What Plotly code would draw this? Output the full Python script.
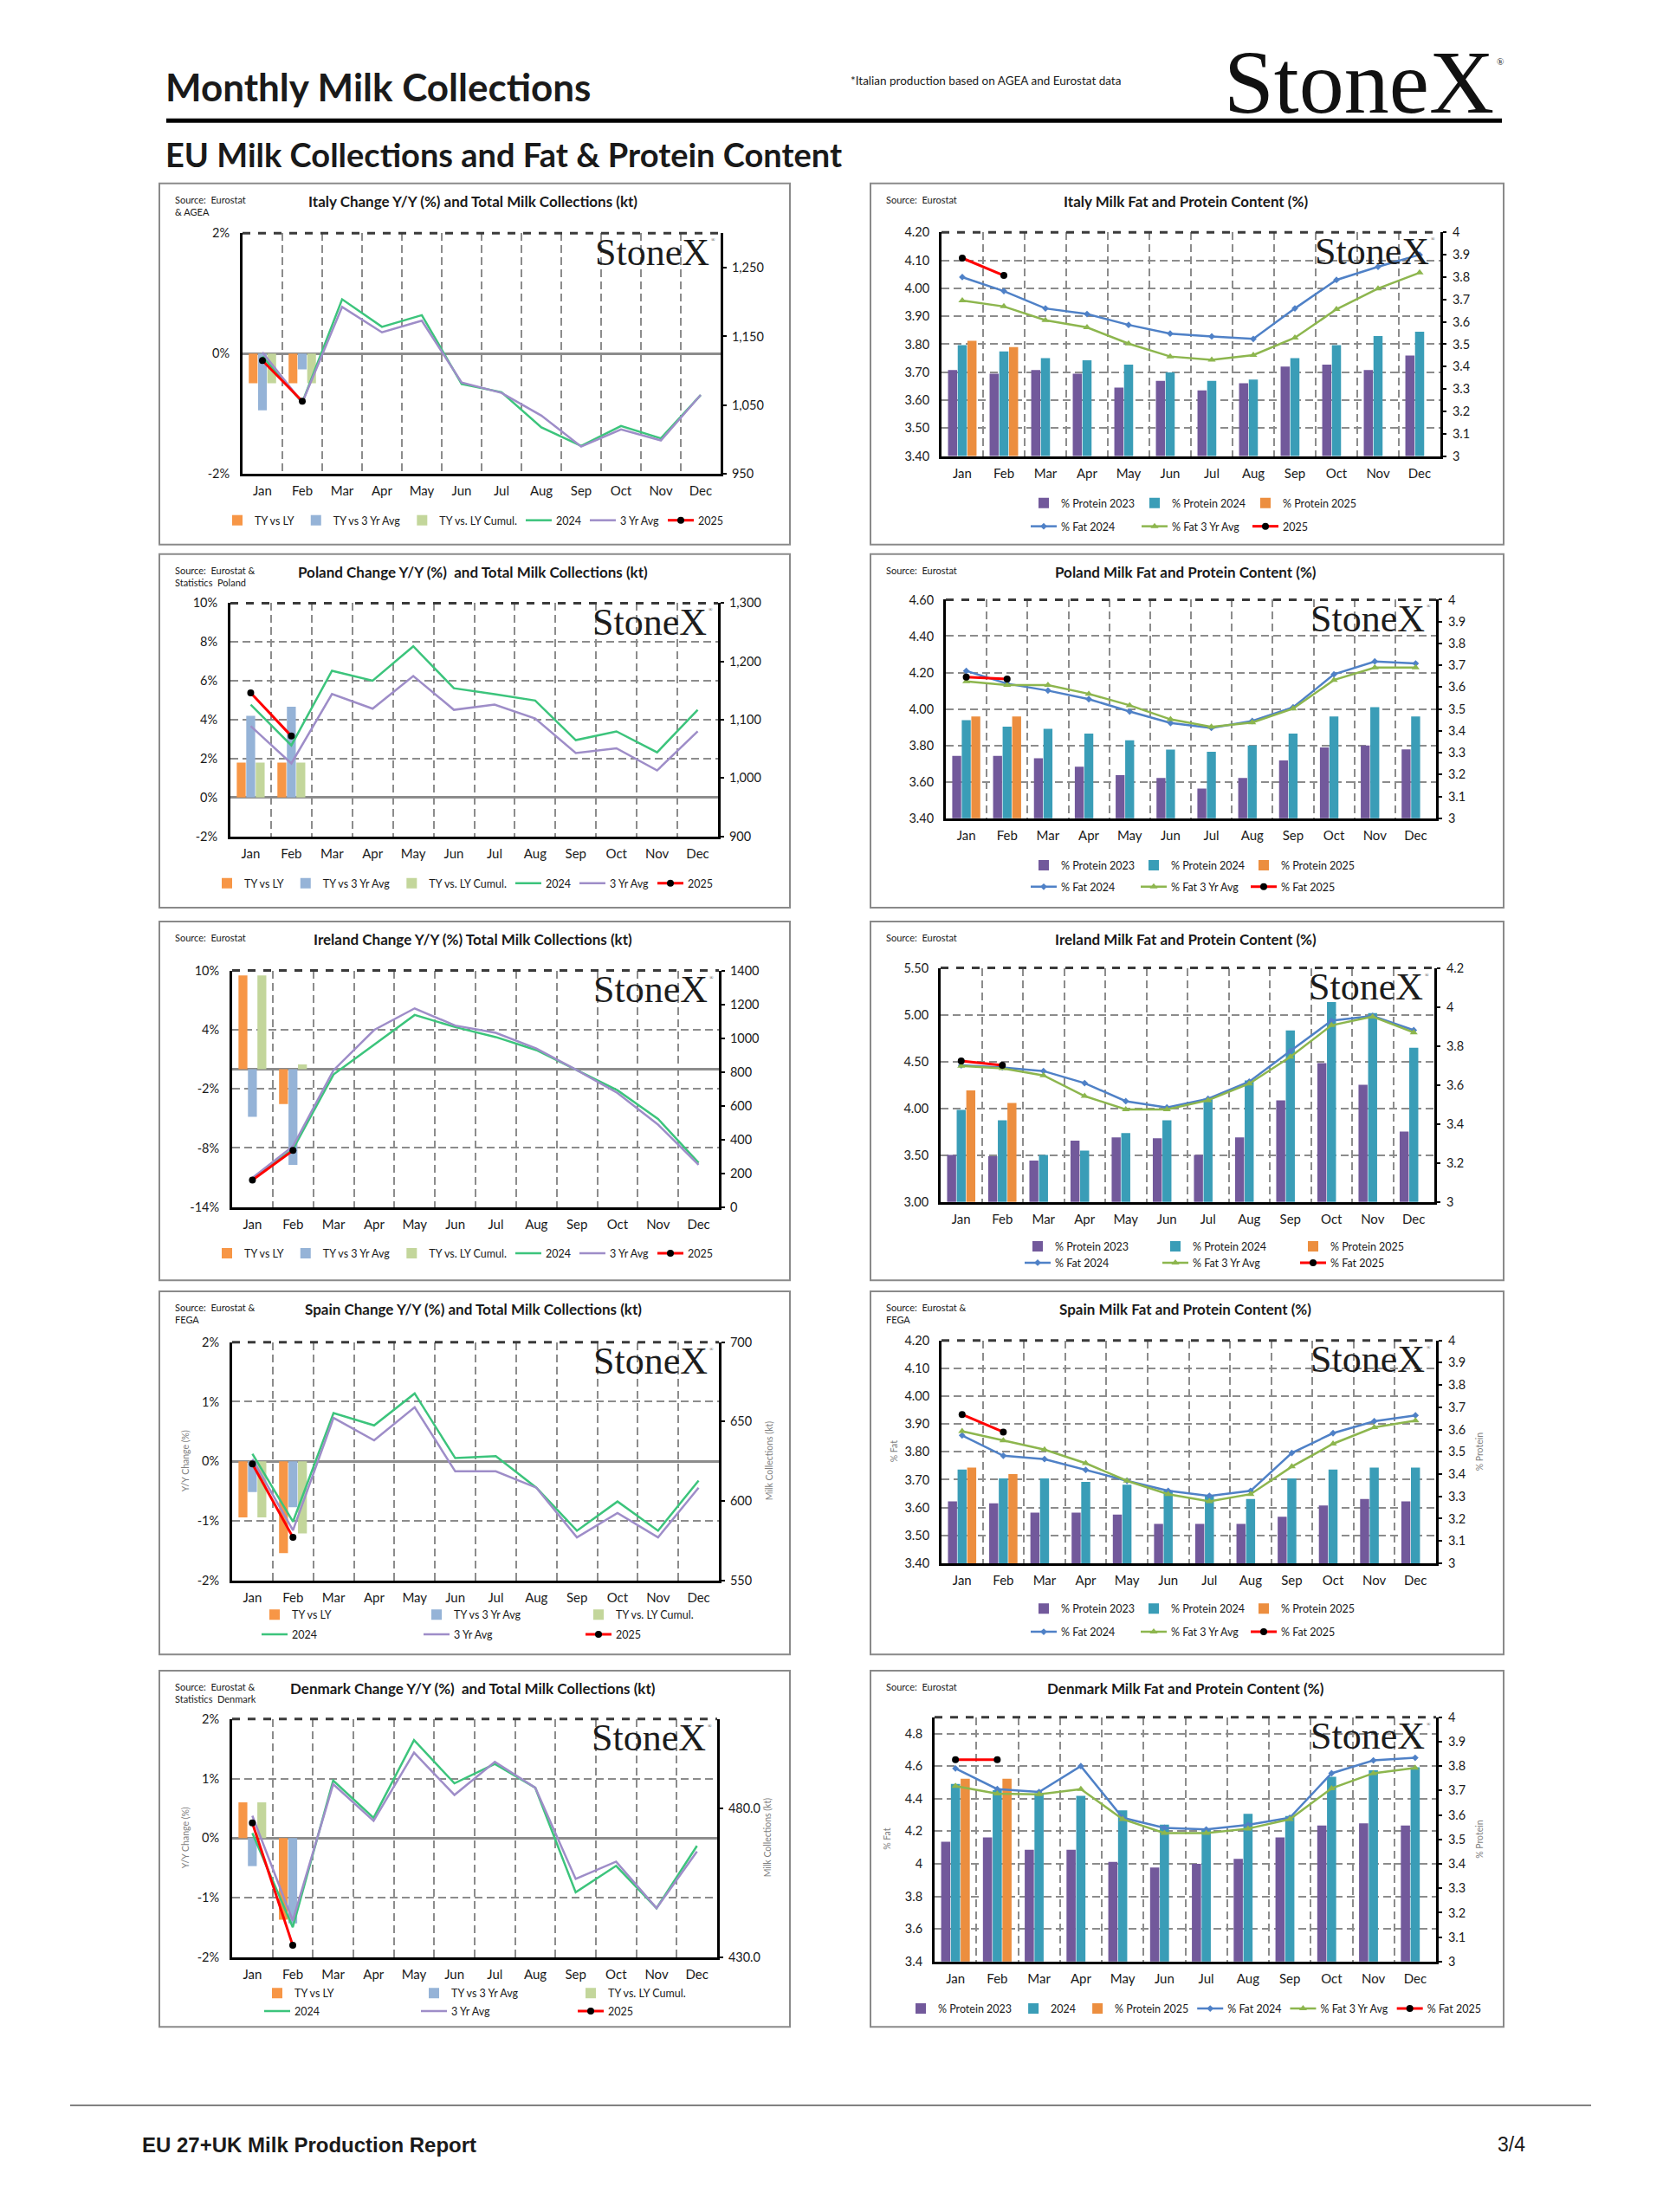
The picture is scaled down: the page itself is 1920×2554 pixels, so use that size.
import plotly.graph_objects as go

PAGE_W, PAGE_H = 1920, 2554
BODY_MARGIN = 8                       # default <body> margin of the html page
W, H = PAGE_W - 2 * BODY_MARGIN, PAGE_H - 2 * BODY_MARGIN
FONT = "Lato"
SERIF = "Liberation Serif"

MONTHS = ["Jan", "Feb", "Mar", "Apr", "May", "Jun", "Jul", "Aug", "Sep", "Oct", "Nov", "Dec"]
CHANGE_NAMES = ["TY vs LY", "TY vs 3 Yr Avg", "TY vs. LY Cumul.", "2024", "3 Yr Avg", "2025"]

# ---------------- Italy: change Y/Y (%) and collections (kt)
ITA_TY_LY = [-0.49, -0.49]
ITA_TY_3YR = [-0.94, -0.26]
ITA_TY_CUMUL = [-0.49, -0.49]
ITA_KT_2024 = [1121, 1054, 1204, 1164, 1181, 1081, 1069, 1018, 991, 1020, 1002, 1065]
ITA_KT_3YR = [1127, 1054, 1193, 1156, 1173, 1083, 1068, 1035, 990, 1015, 999, 1065]
ITA_KT_2025 = [1115, 1056]
ITA_PCT_TICKS = [-2, 0, 2]
ITA_KT_TICKS = [950, 1050, 1150, 1250]

# ---------------- Poland
POL_TY_LY = [1.79, 1.79]
POL_TY_3YR = [4.2, 4.67]
POL_TY_CUMUL = [1.79, 1.79]
POL_KT_2024 = [1126, 1056, 1184, 1167, 1226, 1154, 1144, 1133, 1065, 1080, 1044, 1117]
POL_KT_3YR = [1089, 1025, 1144, 1119, 1175, 1117, 1126, 1102, 1043, 1051, 1013, 1080]
POL_KT_2025 = [1146, 1072]
POL_PCT_TICKS = [-2, 0, 2, 4, 6, 8, 10]
POL_KT_TICKS = [900, 1000, 1100, 1200, 1300]

# ---------------- Ireland
IRL_TY_LY = [9.5, -3.54]
IRL_TY_3YR = [-4.85, -9.72]
IRL_TY_CUMUL = [9.5, 0.48]
IRL_KT_2024 = [165, 343, 785, 963, 1137, 1065, 1006, 929, 810, 691, 522, 262]
IRL_KT_3YR = [173, 360, 810, 1048, 1176, 1074, 1031, 938, 810, 675, 488, 250]
IRL_KT_2025 = [160, 335]
IRL_PCT_TICKS = [-14, -8, -2, 4, 10]
IRL_KT_TICKS = [0, 200, 400, 600, 800, 1000, 1200, 1400]

# ---------------- Spain
ESP_TY_LY = [-0.94, -1.54]
ESP_TY_3YR = [-0.515, -0.77]
ESP_TY_CUMUL = [-0.94, -1.21]
ESP_KT_2024 = [629.7, 587.0, 655.4, 647.6, 667.7, 627.0, 628.3, 608.4, 581.3, 599.7, 581.3, 612.9]
ESP_KT_3YR = [626.4, 581.6, 652.3, 638.2, 659.0, 618.7, 618.7, 608.4, 577.1, 592.5, 577.1, 608.4]
ESP_KT_2025 = [623.4, 577.1]
ESP_PCT_TICKS = [-2, -1, 0, 1, 2]
ESP_KT_TICKS = [550, 600, 650, 700]

# ---------------- Denmark
DNK_TY_LY = [0.6, -1.37]
DNK_TY_3YR = [-0.47, -1.43]
DNK_TY_CUMUL = [0.6, None]
DNK_KT_2024 = [471.7, 440.1, 489.3, 476.8, 502.9, 488.4, 494.9, 486.9, 451.8, 460.7, 446.5, 467.4]
DNK_KT_3YR = [477.5, 442.3, 488.1, 475.8, 498.7, 484.5, 495.6, 486.9, 456.3, 462.1, 446.5, 465.5]
DNK_KT_2025 = [475.1, 434.0]
DNK_PCT_TICKS = [-2, -1, 0, 1, 2]
DNK_KT_TICKS = [430, 480]

# ---------------- Fat & protein content (%)
PROTEIN_TICKS = [3.0, 3.1, 3.2, 3.3, 3.4, 3.5, 3.6, 3.7, 3.8, 3.9, 4.0]

ITA_PROT_2023 = [3.385, 3.368, 3.385, 3.368, 3.306, 3.336, 3.294, 3.326, 3.400, 3.409, 3.385, 3.449]
ITA_PROT_2024 = [3.496, 3.468, 3.438, 3.428, 3.409, 3.374, 3.336, 3.342, 3.438, 3.496, 3.537, 3.556]
ITA_PROT_2025 = [3.515, 3.487]
ITA_FAT_2024 = [4.040, 3.990, 3.928, 3.908, 3.869, 3.838, 3.828, 3.819, 3.928, 4.030, 4.077, 4.120]
ITA_FAT_3YR = [3.956, 3.935, 3.886, 3.860, 3.802, 3.756, 3.744, 3.761, 3.823, 3.925, 3.999, 4.056]
ITA_FAT_2025 = [4.108, 4.046]
ITA_FAT_TICKS = [3.40, 3.50, 3.60, 3.70, 3.80, 3.90, 4.00, 4.10, 4.20]

POL_PROT_2023 = [3.285, 3.285, 3.274, 3.236, 3.197, 3.184, 3.136, 3.184, 3.265, 3.324, 3.333, 3.315]
POL_PROT_2024 = [3.449, 3.419, 3.409, 3.387, 3.357, 3.314, 3.304, 3.333, 3.387, 3.466, 3.508, 3.466]
POL_PROT_2025 = [3.466, 3.466]
POL_FAT_2024 = [4.209, 4.139, 4.101, 4.054, 3.986, 3.923, 3.896, 3.934, 4.009, 4.190, 4.261, 4.250]
POL_FAT_3YR = [4.151, 4.131, 4.131, 4.083, 4.020, 3.943, 3.902, 3.926, 4.002, 4.159, 4.227, 4.227]
POL_FAT_2025 = [4.175, 4.164]
POL_FAT_TICKS = [3.40, 3.60, 3.80, 4.00, 4.20, 4.40, 4.60]

IRL_PROT_2023 = [3.241, 3.234, 3.212, 3.314, 3.331, 3.326, 3.241, 3.331, 3.521, 3.712, 3.601, 3.361]
IRL_PROT_2024 = [3.472, 3.419, 3.241, 3.263, 3.353, 3.419, 3.530, 3.623, 3.879, 4.025, 3.968, 3.791]
IRL_PROT_2025 = [3.572, 3.507]
IRL_FAT_2024 = [4.459, 4.437, 4.398, 4.269, 4.076, 4.009, 4.101, 4.284, 4.612, 4.936, 4.988, 4.835]
IRL_FAT_3YR = [4.453, 4.428, 4.352, 4.131, 3.988, 3.988, 4.086, 4.263, 4.550, 4.887, 4.979, 4.810]
IRL_FAT_2025 = [4.505, 4.459]
IRL_FAT_TICKS = [3.00, 3.50, 4.00, 4.50, 5.00, 5.50]
IRL_PROT_TICKS = [3.0, 3.2, 3.4, 3.6, 3.8, 4.0, 4.2]

ESP_PROT_2023 = [3.278, 3.269, 3.227, 3.227, 3.218, 3.177, 3.177, 3.177, 3.209, 3.259, 3.288, 3.278]
ESP_PROT_2024 = [3.421, 3.381, 3.381, 3.365, 3.353, 3.327, 3.305, 3.288, 3.381, 3.421, 3.429, 3.429]
ESP_PROT_2025 = [3.429, 3.400]
ESP_FAT_2024 = [3.859, 3.786, 3.774, 3.735, 3.696, 3.660, 3.642, 3.660, 3.796, 3.867, 3.910, 3.931]
ESP_FAT_3YR = [3.874, 3.841, 3.808, 3.759, 3.696, 3.648, 3.622, 3.648, 3.747, 3.829, 3.888, 3.912]
ESP_FAT_2025 = [3.934, 3.871]
ESP_FAT_TICKS = [3.40, 3.50, 3.60, 3.70, 3.80, 3.90, 4.00, 4.10, 4.20]

DNK_PROT_2023 = [3.490, 3.508, 3.458, 3.458, 3.408, 3.385, 3.400, 3.420, 3.508, 3.557, 3.566, 3.557]
DNK_PROT_2024 = [3.727, 3.701, 3.689, 3.678, 3.619, 3.560, 3.543, 3.605, 3.596, 3.756, 3.783, 3.795]
DNK_PROT_2025 = [3.748, 3.748]
DNK_FAT_2024 = [4.586, 4.459, 4.441, 4.600, 4.283, 4.221, 4.211, 4.239, 4.283, 4.556, 4.635, 4.651]
DNK_FAT_3YR = [4.477, 4.431, 4.427, 4.459, 4.274, 4.189, 4.189, 4.216, 4.274, 4.463, 4.556, 4.589]
DNK_FAT_2025 = [4.639, 4.639]
DNK_FAT_TICKS = [3.4, 3.6, 3.8, 4.0, 4.2, 4.4, 4.6, 4.8]

# ---------------- styles
ORANGE = "#F79646"
BLUE_BAR = "#95B3D7"
GREEN_BAR = "#C3D69B"
GREEN_LINE = "#3CC47C"
PURPLE_LINE = "#9E8DC8"
RED = "#FF0000"
PROT23 = "#72599B"
PROT24 = "#3A9DB7"
PROT25 = "#EC8E3F"
FAT24 = "#4F81C7"
FAT3Y = "#8DB64E"
GRID = "#8c8c8c"
DASH = "9px,5px"
TXT = "#1a1a1a"
TICK_SIZE = 14.5
LEGEND_SIZE = 12.5


def px_x(v):
    return (v - BODY_MARGIN) / W


def px_y(v):
    return 1 - (v - BODY_MARGIN) / H


def names_for(kind, n):
    return (f"{kind}axis" if n == 1 else f"{kind}axis{n}"), (kind if n == 1 else f"{kind}{n}")


fig = go.Figure()
layout = dict(
    width=W, height=H, margin=dict(l=0, r=0, t=0, b=0),
    paper_bgcolor="white", plot_bgcolor="white",
    barmode="group", bargap=0.3, bargroupgap=0.06,
    font=dict(family=FONT, size=13, color=TXT),
    showlegend=True,
)
shapes = []
annotations = []
legend_counter = [0]


def add_text(x, y, text, size, xanchor="left", yanchor="middle", family=FONT, color=TXT, angle=0):
    annotations.append(dict(
        x=px_x(x), y=px_y(y), xref="paper", yref="paper", text=text, showarrow=False,
        xanchor=xanchor, yanchor=yanchor, textangle=angle, align="left",
        font=dict(size=size, family=family, color=color)))


def new_legend(x, y, entrywidth=None):
    legend_counter[0] += 1
    n = legend_counter[0]
    name = "legend" if n == 1 else f"legend{n}"
    d = dict(orientation="h", x=px_x(x), y=px_y(y), xanchor="left", yanchor="middle",
             bgcolor="rgba(0,0,0,0)", borderwidth=0, itemwidth=30, traceorder="normal",
             font=dict(size=LEGEND_SIZE, family=FONT, color=TXT))
    if entrywidth:
        d.update(entrywidth=entrywidth, entrywidthmode="pixels")
    layout[name] = d
    return name


def frame(p):
    bx0, by0, bx1, by1 = p["box"]
    l, r, t, b = p["plot"]
    shapes.append(dict(type="rect", xref="paper", yref="paper", x0=px_x(bx0), x1=px_x(bx1),
                       y0=px_y(by1), y1=px_y(by0), line=dict(color="#8a8a8a", width=2)))
    shapes.append(dict(type="line", xref="paper", yref="paper", x0=px_x(l), x1=px_x(r),
                       y0=px_y(t), y1=px_y(t), line=dict(color="#3a3a3a", width=3, dash="dash")))
    add_text((bx0 + bx1) / 2 - 2, by0 + 21, "<b>" + p["title"] + "</b>", 17, xanchor="center")
    add_text(bx0 + 16, by0 + 10, p["source"], 11, yanchor="top")
    add_text(r - 11, t + 22, "StoneX", 44, xanchor="right", family=SERIF, color="#1c1c1c")
    add_text(r - 4, t + 8, "®", 6, xanchor="right", family=SERIF, color="#333")


def xaxis_style(l, r, yref):
    return dict(domain=[px_x(l), px_x(r)], anchor=yref, type="category",
                categoryorder="array", categoryarray=MONTHS, range=[-0.5, 11.5],
                tickson="boundaries", ticks="", showgrid=True, gridcolor=GRID, gridwidth=2,
                griddash=DASH, showline=True, linecolor="black", linewidth=3,
                tickfont=dict(size=TICK_SIZE + 0.5, color=TXT), ticklabelstandoff=4, zeroline=False)


CHANGE_PANELS = [
    dict(title="Italy Change Y/Y (%) and Total Milk Collections (kt)",
         source="Source:  Eurostat<br>& AGEA", box=(184, 204, 912, 624), plot=(280, 832, 262, 542),
         bars=(ITA_TY_LY, ITA_TY_3YR, ITA_TY_CUMUL), lines=(ITA_KT_2024, ITA_KT_3YR, ITA_KT_2025),
         pct_range=[-2, 2], pct_ticks=ITA_PCT_TICKS, kt_range=[950, 1300], kt_ticks=ITA_KT_TICKS,
         kt_fmt="{:,.0f}", legend=dict(x=254, rows=[596]), ytitles=False),
    dict(title="Poland Change Y/Y (%)  and Total Milk Collections (kt)",
         source="Source:  Eurostat &<br>Statistics  Poland", box=(184, 635, 912, 1046), plot=(266, 829, 692, 963),
         bars=(POL_TY_LY, POL_TY_3YR, POL_TY_CUMUL), lines=(POL_KT_2024, POL_KT_3YR, POL_KT_2025),
         pct_range=[-2, 10], pct_ticks=POL_PCT_TICKS, kt_range=[900, 1300], kt_ticks=POL_KT_TICKS,
         kt_fmt="{:,.0f}", legend=dict(x=242, rows=[1018]), ytitles=False),
    dict(title="Ireland Change Y/Y (%) Total Milk Collections (kt)",
         source="Source:  Eurostat", box=(184, 1062, 912, 1479), plot=(268, 830, 1119, 1394),
         bars=(IRL_TY_LY, IRL_TY_3YR, IRL_TY_CUMUL), lines=(IRL_KT_2024, IRL_KT_3YR, IRL_KT_2025),
         pct_range=[-14, 10], pct_ticks=IRL_PCT_TICKS, kt_range=[0, 1400], kt_ticks=IRL_KT_TICKS,
         kt_fmt="{:.0f}", legend=dict(x=242, rows=[1448]), ytitles=False),
    dict(title="Spain Change Y/Y (%) and Total Milk Collections (kt)",
         source="Source:  Eurostat &<br>FEGA", box=(184, 1492, 912, 1914), plot=(268, 830, 1551, 1828),
         bars=(ESP_TY_LY, ESP_TY_3YR, ESP_TY_CUMUL), lines=(ESP_KT_2024, ESP_KT_3YR, ESP_KT_2025),
         pct_range=[-2, 2], pct_ticks=ESP_PCT_TICKS, kt_range=[550, 700], kt_ticks=ESP_KT_TICKS,
         kt_fmt="{:.0f}", legend=dict(x=297, rows=[1868, 1891], col=184), ytitles=True),
    dict(title="Denmark Change Y/Y (%)  and Total Milk Collections (kt)",
         source="Source:  Eurostat &<br>Statistics  Denmark", box=(184, 1933, 912, 2347), plot=(268, 828, 1989, 2266),
         bars=(DNK_TY_LY, DNK_TY_3YR, DNK_TY_CUMUL), lines=(DNK_KT_2024, DNK_KT_3YR, DNK_KT_2025),
         pct_range=[-2, 2], pct_ticks=DNK_PCT_TICKS, kt_range=[430, 510], kt_ticks=DNK_KT_TICKS,
         kt_fmt="{:.1f}", legend=dict(x=300, rows=[2308, 2329], col=178), ytitles=True),
]

CONTENT_PANELS = [
    dict(title="Italy Milk Fat and Protein Content (%)", source="Source:  Eurostat",
         box=(1005, 204, 1736, 624), plot=(1087, 1663, 261, 521),
         prot=(ITA_PROT_2023, ITA_PROT_2024, ITA_PROT_2025), fat=(ITA_FAT_2024, ITA_FAT_3YR, ITA_FAT_2025),
         fat_range=[3.4, 4.2], fat_ticks=ITA_FAT_TICKS, fat_fmt="{:.2f}",
         prot_range=[3.0, 4.0], prot_ticks=PROTEIN_TICKS,
         names=["% Protein 2023", "% Protein 2024", "% Protein 2025", "% Fat 2024", "% Fat 3 Yr Avg", "2025"],
         legend=dict(x=1185, rows=[576, 603], col=125), ytitles=False),
    dict(title="Poland Milk Fat and Protein Content (%)", source="Source:  Eurostat",
         box=(1005, 635, 1736, 1046), plot=(1092, 1658, 688, 942),
         prot=(POL_PROT_2023, POL_PROT_2024, POL_PROT_2025), fat=(POL_FAT_2024, POL_FAT_3YR, POL_FAT_2025),
         fat_range=[3.4, 4.6], fat_ticks=POL_FAT_TICKS, fat_fmt="{:.2f}",
         prot_range=[3.0, 4.0], prot_ticks=PROTEIN_TICKS,
         names=["% Protein 2023", "% Protein 2024", "% Protein 2025", "% Fat 2024", "% Fat 3 Yr Avg", "% Fat 2025"],
         legend=dict(x=1185, rows=[997, 1022], col=124), ytitles=False),
    dict(title="Ireland Milk Fat and Protein Content (%)", source="Source:  Eurostat",
         box=(1005, 1062, 1736, 1479), plot=(1086, 1656, 1116, 1388),
         prot=(IRL_PROT_2023, IRL_PROT_2024, IRL_PROT_2025), fat=(IRL_FAT_2024, IRL_FAT_3YR, IRL_FAT_2025),
         fat_range=[3.0, 5.5], fat_ticks=IRL_FAT_TICKS, fat_fmt="{:.2f}",
         prot_range=[3.0, 4.2], prot_ticks=IRL_PROT_TICKS,
         names=["% Protein 2023", "% Protein 2024", "% Protein 2025", "% Fat 2024", "% Fat 3 Yr Avg", "% Fat 2025"],
         legend=dict(x=1178, rows=[1440, 1459], col=156), ytitles=False),
    dict(title="Spain Milk Fat and Protein Content (%)", source="Source:  Eurostat &<br>FEGA",
         box=(1005, 1492, 1736, 1914), plot=(1087, 1658, 1549, 1808),
         prot=(ESP_PROT_2023, ESP_PROT_2024, ESP_PROT_2025), fat=(ESP_FAT_2024, ESP_FAT_3YR, ESP_FAT_2025),
         fat_range=[3.4, 4.2], fat_ticks=ESP_FAT_TICKS, fat_fmt="{:.2f}",
         prot_range=[3.0, 4.0], prot_ticks=PROTEIN_TICKS,
         names=["% Protein 2023", "% Protein 2024", "% Protein 2025", "% Fat 2024", "% Fat 3 Yr Avg", "% Fat 2025"],
         legend=dict(x=1185, rows=[1861, 1888], col=124), ytitles=True),
    dict(title="Denmark Milk Fat and Protein Content (%)", source="Source:  Eurostat",
         box=(1005, 1933, 1736, 2347), plot=(1079, 1658, 1987, 2271),
         prot=(DNK_PROT_2023, DNK_PROT_2024, DNK_PROT_2025), fat=(DNK_FAT_2024, DNK_FAT_3YR, DNK_FAT_2025),
         fat_range=[3.4, 4.9], fat_ticks=DNK_FAT_TICKS, fat_fmt="{:g}",
         prot_range=[3.0, 4.0], prot_ticks=PROTEIN_TICKS,
         names=["% Protein 2023", "2024", "% Protein 2025", "% Fat 2024", "% Fat 3 Yr Avg", "% Fat 2025"],
         legend=dict(x=1043, rows=[2326]), ytitles=True),
]


def make_legends(lg):
    if len(lg["rows"]) == 1:
        a = new_legend(lg["x"], lg["rows"][0])
        return a, a
    a = new_legend(lg["x"], lg["rows"][0], entrywidth=lg["col"] - 42)
    b = new_legend(lg["x"], lg["rows"][1], entrywidth=lg["col"] - 42)
    return a, b


axis_index = 0
for p in CHANGE_PANELS:
    axis_index += 1
    k = axis_index
    xname, xref = names_for("x", k)
    y1name, y1ref = names_for("y", 2 * k - 1)
    y2name, y2ref = names_for("y", 2 * k)
    l, r, t, b = p["plot"]
    layout[xname] = xaxis_style(l, r, y1ref)
    layout[y1name] = dict(
        domain=[px_y(b), px_y(t)], anchor=xref, side="left", range=p["pct_range"],
        tickvals=p["pct_ticks"], ticktext=[f"{v:g}%" for v in p["pct_ticks"]],
        showgrid=True, gridcolor=GRID, gridwidth=2, griddash=DASH,
        zeroline=True, zerolinecolor="#8c8c8c", zerolinewidth=3,
        showline=True, linecolor="black", linewidth=3, ticks="",
        tickfont=dict(size=TICK_SIZE, color=TXT), ticklabelstandoff=9)
    layout[y2name] = dict(
        overlaying=y1ref, anchor=xref, side="right", range=p["kt_range"],
        tickvals=p["kt_ticks"], ticktext=[p["kt_fmt"].format(v) for v in p["kt_ticks"]],
        showgrid=False, zeroline=False, showline=True, linecolor="black", linewidth=3,
        ticks="outside", ticklen=4, tickwidth=2, tickcolor="black",
        tickfont=dict(size=TICK_SIZE, color=TXT), ticklabelstandoff=3)
    frame(p)
    leg_a, leg_b = make_legends(p["legend"])
    for vals, name, color in zip(p["bars"], CHANGE_NAMES[:3], [ORANGE, BLUE_BAR, GREEN_BAR]):
        fig.add_trace(go.Bar(x=MONTHS[:len(vals)], y=vals, name=name, marker=dict(color=color, line=dict(width=0)),
                             xaxis=xref, yaxis=y1ref, legend=leg_a))
    fig.add_trace(go.Scatter(x=MONTHS, y=p["lines"][0], name=CHANGE_NAMES[3], mode="lines",
                             line=dict(color=GREEN_LINE, width=2.5), xaxis=xref, yaxis=y2ref, legend=leg_b))
    fig.add_trace(go.Scatter(x=MONTHS, y=p["lines"][1], name=CHANGE_NAMES[4], mode="lines",
                             line=dict(color=PURPLE_LINE, width=2.5), xaxis=xref, yaxis=y2ref, legend=leg_b))
    fig.add_trace(go.Scatter(x=MONTHS[:len(p["lines"][2])], y=p["lines"][2], name=CHANGE_NAMES[5],
                             mode="lines+markers", line=dict(color=RED, width=3),
                             marker=dict(color="black", size=8), xaxis=xref, yaxis=y2ref, legend=leg_b))
    if p["ytitles"]:
        cy = (t + b) / 2
        add_text(l - 54, cy, "Y/Y Change (%)", 10.5, xanchor="center", color="#7f7f7f", angle=-90)
        add_text(r + 58, cy, "Milk Collections (kt)", 10.5, xanchor="center", color="#7f7f7f", angle=-90)

for p in CONTENT_PANELS:
    axis_index += 1
    k = axis_index
    xname, xref = names_for("x", k)
    y1name, y1ref = names_for("y", 2 * k - 1)
    y2name, y2ref = names_for("y", 2 * k)
    l, r, t, b = p["plot"]
    layout[xname] = xaxis_style(l, r, y1ref)
    # primary: protein (bars), right side
    layout[y1name] = dict(
        domain=[px_y(b), px_y(t)], anchor=xref, side="right", range=p["prot_range"],
        tickvals=p["prot_ticks"], ticktext=[f"{v:g}" for v in p["prot_ticks"]],
        showgrid=False, zeroline=False, showline=True, linecolor="black", linewidth=3,
        ticks="outside", ticklen=4, tickwidth=2, tickcolor="black",
        tickfont=dict(size=TICK_SIZE, color=TXT), ticklabelstandoff=4)
    # overlay: fat (lines), left side, carries the dashed grid
    layout[y2name] = dict(
        overlaying=y1ref, anchor=xref, side="left", range=p["fat_range"],
        tickvals=p["fat_ticks"], ticktext=[p["fat_fmt"].format(v) for v in p["fat_ticks"]],
        showgrid=True, gridcolor=GRID, gridwidth=2, griddash=DASH, zeroline=False,
        showline=True, linecolor="black", linewidth=3, ticks="",
        tickfont=dict(size=TICK_SIZE, color=TXT), ticklabelstandoff=8)
    frame(p)
    leg_a, leg_b = make_legends(p["legend"])
    nm = p["names"]
    for vals, name, color in zip(p["prot"], nm[:3], [PROT23, PROT24, PROT25]):
        fig.add_trace(go.Bar(x=MONTHS[:len(vals)], y=vals, name=name, marker=dict(color=color, line=dict(width=0)),
                             xaxis=xref, yaxis=y1ref, legend=leg_a))
    fig.add_trace(go.Scatter(x=MONTHS, y=p["fat"][0], name=nm[3], mode="lines+markers",
                             line=dict(color=FAT24, width=2.5), marker=dict(symbol="diamond", size=6, color=FAT24),
                             xaxis=xref, yaxis=y2ref, legend=leg_b))
    fig.add_trace(go.Scatter(x=MONTHS, y=p["fat"][1], name=nm[4], mode="lines+markers",
                             line=dict(color=FAT3Y, width=2.5), marker=dict(symbol="triangle-up", size=8, color=FAT3Y),
                             xaxis=xref, yaxis=y2ref, legend=leg_b))
    fig.add_trace(go.Scatter(x=MONTHS[:len(p["fat"][2])], y=p["fat"][2], name=nm[5], mode="lines+markers",
                             line=dict(color=RED, width=3), marker=dict(color="black", size=8),
                             xaxis=xref, yaxis=y2ref, legend=leg_b))
    if p["ytitles"]:
        cy = (t + b) / 2
        add_text(l - 55, cy, "% Fat", 10.5, xanchor="center", color="#7f7f7f", angle=-90)
        add_text(r + 50, cy, "% Protein", 10.5, xanchor="center", color="#7f7f7f", angle=-90)

# ---------------- page header / footer
add_text(189, 92, "<b>Monthly Milk Collections</b>", 44)
add_text(189, 170, "<b>EU Milk Collections and Fat & Protein Content</b>", 38)
add_text(980, 85, "*Italian production based on AGEA and Eurostat data", 13.5)
add_text(1727, 86, "StoneX", 104, xanchor="right", family=SERIF, color="#111")
add_text(1738, 62, "®", 11, xanchor="right", family=SERIF, color="#111")
shapes.append(dict(type="line", xref="paper", yref="paper", x0=px_x(192), x1=px_x(1734),
                   y0=px_y(131), y1=px_y(131), line=dict(color="black", width=5)))
shapes.append(dict(type="line", xref="paper", yref="paper", x0=px_x(81), x1=px_x(1837),
                   y0=px_y(2438), y1=px_y(2438), line=dict(color="#555555", width=1.5)))
add_text(162, 2484, "<b>EU 27+UK Milk Production Report</b>", 24, family="Liberation Sans")
add_text(1763, 2484, "3/4", 23, xanchor="right", family="Liberation Sans")

layout["shapes"] = shapes
layout["annotations"] = annotations
fig.update_layout(**layout)
fig.write_html("out.html")
